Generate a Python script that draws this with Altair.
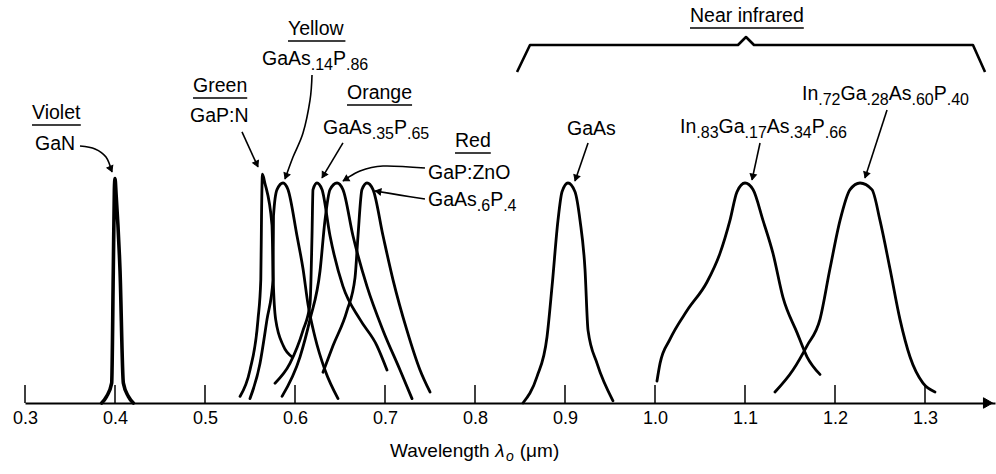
import math
import altair as alt
import pandas as pd

# ---------------- spectra: wavelength (µm) and relative intensity ----------------
GAN_WL = [0.3852, 0.3907, 0.3963, 0.3981, 0.3993, 0.4000, 0.4012, 0.4056, 0.4093, 0.4148, 0.4204]
GAN_I = [0.00, 0.03, 0.09, 0.60, 0.97, 1.02, 0.95, 0.60, 0.09, 0.03, 0.00]

GAPN_WL = [0.5389, 0.5500, 0.5589, 0.5620, 0.5628, 0.5638, 0.5665, 0.5744, 0.5758, 0.5785, 0.5870, 0.5967]
GAPN_I = [0.03, 0.15, 0.38, 0.56, 0.85, 1.04, 1.00, 0.81, 0.56, 0.38, 0.26, 0.21]

YEL_WL = [0.5500, 0.5611, 0.5689, 0.5756, 0.5761, 0.5800, 0.5867, 0.5922, 0.6022, 0.6089, 0.6144, 0.6222, 0.6333, 0.6478]
YEL_I = [0.02, 0.18, 0.38, 0.56, 0.85, 0.97, 1.00, 0.97, 0.76, 0.61, 0.45, 0.30, 0.15, 0.02]

ORA_WL = [0.5778, 0.5944, 0.6089, 0.6167, 0.6189, 0.6200, 0.6244, 0.6300, 0.6389, 0.6533, 0.6722, 0.6911, 0.7022]
ORA_I = [0.09, 0.18, 0.33, 0.45, 0.76, 0.97, 1.00, 0.97, 0.76, 0.53, 0.38, 0.26, 0.15]

ZNO_WL = [0.5856, 0.6056, 0.6167, 0.6278, 0.6333, 0.6389, 0.6467, 0.6533, 0.6644, 0.6800, 0.6978, 0.7167, 0.7300]
ZNO_I = [0.03, 0.21, 0.38, 0.60, 0.83, 0.97, 1.00, 0.97, 0.76, 0.53, 0.33, 0.15, 0.02]

RED_WL = [0.6311, 0.6422, 0.6578, 0.6667, 0.6700, 0.6744, 0.6800, 0.6867, 0.6978, 0.7089, 0.7244, 0.7389, 0.7500]
RED_I = [0.14, 0.26, 0.42, 0.57, 0.76, 0.97, 1.00, 0.97, 0.76, 0.56, 0.33, 0.15, 0.05]

GAAS_WL = [0.8533, 0.8689, 0.8800, 0.8856, 0.8922, 0.8967, 0.9033, 0.9111, 0.9167, 0.9222, 0.9256, 0.9356, 0.9533]
GAAS_I = [0.00, 0.12, 0.30, 0.53, 0.83, 0.96, 1.00, 0.96, 0.83, 0.61, 0.33, 0.18, 0.01]

IN83_WL = [1.0022, 1.0056, 1.0167, 1.0356, 1.0578, 1.0722, 1.0833, 1.0911, 1.1000, 1.1089, 1.1200,
           1.1311, 1.1422, 1.1578, 1.1689, 1.1833]
IN83_I = [0.10, 0.18, 0.29, 0.42, 0.55, 0.68, 0.83, 0.96, 1.00, 0.97, 0.83, 0.68, 0.48, 0.32, 0.21, 0.13]

IN72_WL = [1.1333, 1.1533, 1.1689, 1.1833, 1.1944, 1.2056, 1.2167, 1.2278, 1.2411, 1.2500, 1.2611,
           1.2722, 1.2833, 1.2978, 1.3111]
IN72_I = [0.05, 0.15, 0.26, 0.38, 0.61, 0.83, 0.97, 1.00, 0.97, 0.83, 0.61, 0.38, 0.21, 0.09, 0.05]

CURVES = [("GaN", GAN_WL, GAN_I), ("GaP:N", GAPN_WL, GAPN_I), ("yellow", YEL_WL, YEL_I),
          ("orange", ORA_WL, ORA_I), ("GaP:ZnO", ZNO_WL, ZNO_I), ("red", RED_WL, RED_I),
          ("GaAs", GAAS_WL, GAAS_I), ("In83", IN83_WL, IN83_I), ("In72", IN72_WL, IN72_I)]

TICK_VALUES = [0.3, 0.4, 0.5, 0.6, 0.7, 0.8, 0.9, 1.0, 1.1, 1.2, 1.3]

# ---------------- annotations ----------------
HEADINGS = ["Violet", "Green", "Yellow", "Orange", "Red", "Near infrared"]
HEADING_POS = [(0.3078, 1.291), (0.4867, 1.4136), (0.5922, 1.673), (0.6578, 1.382),
               (0.7778, 1.1636), (1.0389, 1.7318)]

FORMULAS = [
    [("GaN", 0)],
    [("GaP:N", 0)],
    [("GaAs", 0), (".14", 1), ("P", 0), (".86", 1)],
    [("GaAs", 0), (".35", 1), ("P", 0), (".65", 1)],
    [("GaP:ZnO", 0)],
    [("GaAs", 0), (".6", 1), ("P", 0), (".4", 1)],
    [("GaAs", 0)],
    [("In", 0), (".83", 1), ("Ga", 0), (".17", 1), ("As", 0), (".34", 1), ("P", 0), (".66", 1)],
    [("In", 0), (".72", 1), ("Ga", 0), (".28", 1), ("As", 0), (".60", 1), ("P", 0), (".40", 1)],
]
FORMULA_POS = [(0.3111, 1.15), (0.4833, 1.277), (0.5633, 1.536), (0.6311, 1.2227), (0.7478, 1.018),
               (0.7478, 0.895), (0.9022, 1.218), (1.0278, 1.227), (1.1633, 1.377)]

ARROWS = [
    [(0.3611, 1.168), (0.3778, 1.155), (0.3900, 1.118), (0.3967, 1.050)],
    [(0.5411, 1.232), (0.5589, 1.073)],
    [(0.6189, 1.491), (0.6167, 1.377), (0.6089, 1.227), (0.5978, 1.118), (0.5889, 1.018)],
    [(0.6533, 1.182), (0.6300, 1.023)],
    [(0.7444, 1.068), (0.6978, 1.077), (0.6722, 1.055), (0.6533, 1.009)],
    [(0.7444, 0.927), (0.7167, 0.945), (0.6889, 0.964)],
    [(0.9256, 1.182), (0.9111, 1.009)],
    [(1.1167, 1.182), (1.1078, 1.014)],
    [(1.2578, 1.332), (1.2333, 1.023)],
]

BRACE = [(0.8467, 1.5045), (0.8611, 1.6273), (1.0922, 1.6273), (1.1011, 1.6636),
         (1.1100, 1.6273), (1.3533, 1.6273), (1.3667, 1.5045)]

# (text, subscript, italic, extra gap after in px)
TITLE_SEGS = [("Wavelength", 0, 0, 5), ("λ", 0, 1, 0), ("o", 1, 1, 6), ("(μm)", 0, 0, 0)]
TITLE_POS = (0.7056, -0.2455)

# ---------------- layout ----------------
X_MIN, X_MAX = 0.3, 1.37778
Y_MAX = 1.8318
W, H = 970, 403
PX_X = W / (X_MAX - X_MIN)
PX_Y = H / Y_MAX
FONT = "Liberation Sans"
MAIN_FS, SUB_FS, SUB_DY = 19.5, 16, 5
TICK_LEN = 18 / PX_Y

ARIAL = {" ": 278, ".": 278, ":": 278, "(": 333, ")": 333, "A": 667, "G": 778, "I": 278, "N": 722,
         "O": 778, "P": 667, "V": 667, "Z": 611, "W": 944, "R": 722, "Y": 667, "a": 556, "d": 556,
         "e": 556, "f": 278, "g": 556, "h": 556, "i": 222, "l": 222, "m": 833, "n": 556, "o": 556,
         "r": 333, "s": 500, "t": 278, "v": 500, "w": 722, "u": 556, "λ": 560, "μ": 576}


def tw(s, fs):
    return sum(ARIAL.get(c, 556) for c in s) / 1000.0 * fs


xs = alt.Scale(domain=[X_MIN, X_MAX], nice=False, zero=False)
ys = alt.Scale(domain=[0, Y_MAX], nice=False, zero=False)
xaxis = alt.Axis(values=TICK_VALUES, format=".1f", title=None, ticks=False, tickSize=0, grid=False,
                 domain=True, domainColor="black", domainWidth=2, labelFont=FONT, labelFontSize=18,
                 labelColor="black", labelPadding=6, labelFlush=False, labelOverlap=False)


def X(f="x"):
    return alt.X(f"{f}:Q", scale=xs, axis=xaxis)


def Y(f="y"):
    return alt.Y(f"{f}:Q", scale=ys, axis=None)


# curves
rows = []
for name, wl, it in CURVES:
    for k, (a, b) in enumerate(zip(wl, it)):
        rows.append(dict(c=name, x=a, y=b, o=k, w=3.6 if name == "GaN" else 2.8))
curves = alt.Chart(pd.DataFrame(rows)).mark_line(
    interpolate="monotone", color="black", strokeCap="round", strokeJoin="round"
).encode(x=X(), y=Y(), detail="c:N", order="o:Q",
         strokeWidth=alt.StrokeWidth("w:Q", scale=None, legend=None))

# tick marks pointing up
ticks = alt.Chart(pd.DataFrame({"x": TICK_VALUES, "y": [0.0] * len(TICK_VALUES),
                                "y2": [TICK_LEN] * len(TICK_VALUES)})).mark_rule(
    color="black", strokeWidth=1.5).encode(x=X(), y=Y(), y2="y2:Q")

# axis arrow head
axis_head = alt.Chart(pd.DataFrame({"x": [X_MAX - 7 / PX_X], "y": [0.0]})).mark_point(
    shape="triangle-right", filled=True, fill="black", stroke="black", size=110, opacity=1, strokeWidth=1
).encode(x=X(), y=Y())

# arrows
arows, hrows = [], []
for i, pts in enumerate(ARROWS):
    for k, (a, b) in enumerate(pts):
        arows.append(dict(g=i, x=a, y=b, o=k))
    (x1, y1), (x2, y2) = pts[-2], pts[-1]
    dx = (x2 - x1) * PX_X
    dy = -(y2 - y1) * PX_Y
    L = math.hypot(dx, dy)
    ux, uy = dx / L, dy / L
    ang = math.degrees(math.atan2(ux, -uy)) % 360
    back = 4.0
    hrows.append(dict(x=x2 - ux * back / PX_X, y=y2 + uy * back / PX_Y, a=ang))
arrows = alt.Chart(pd.DataFrame(arows)).mark_line(
    interpolate="cardinal", color="black", strokeWidth=1.6
).encode(x=X(), y=Y(), detail="g:N", order="o:Q")
heads = alt.Chart(pd.DataFrame(hrows)).mark_point(
    shape="triangle", filled=True, fill="black", stroke="black", size=40, opacity=1, strokeWidth=1
).encode(x=X(), y=Y(), angle=alt.Angle("a:Q", scale=None))

# brace
brace = alt.Chart(pd.DataFrame([dict(x=a, y=b, o=k) for k, (a, b) in enumerate(BRACE)])).mark_line(
    color="black", strokeWidth=2.6, strokeJoin="round"
).encode(x=X(), y=Y(), order="o:Q")

# texts
trows, urows = [], []
for txt, (hx, hy) in zip(HEADINGS, HEADING_POS):
    trows.append(dict(x=hx, y=hy, t=txt, fs=MAIN_FS, it=0))
    urows.append(dict(x=hx, x2=hx + tw(txt, MAIN_FS) / PX_X, y=hy - 6 / PX_Y))
for segs, (fx, fy) in zip(FORMULAS, FORMULA_POS):
    cx = fx
    for s, sub in segs:
        fs = SUB_FS if sub else MAIN_FS
        trows.append(dict(x=cx, y=fy - (SUB_DY / PX_Y if sub else 0), t=s, fs=fs, it=0))
        cx += tw(s, fs) / PX_X
cx = TITLE_POS[0]
for s, sub, ital, gap in TITLE_SEGS:
    fs = 14 if sub else 19
    trows.append(dict(x=cx, y=TITLE_POS[1] - (4 / PX_Y if sub else 0), t=s, fs=fs, it=ital))
    cx += (tw(s, fs) + gap) / PX_X
tdf = pd.DataFrame(trows)

underlines = alt.Chart(pd.DataFrame(urows)).mark_rule(color="black", strokeWidth=1.6).encode(
    x=X(), x2="x2:Q", y=Y())

texts = alt.Chart(tdf[tdf.it == 0]).mark_text(
    align="left", baseline="alphabetic", font=FONT, color="black"
).encode(x=X(), y=Y(), text="t:N", size=alt.Size("fs:Q", scale=None, legend=None))
texts_it = alt.Chart(tdf[tdf.it == 1]).mark_text(
    align="left", baseline="alphabetic", font=FONT, fontStyle="italic", color="black"
).encode(x=X(), y=Y(), text="t:N", size=alt.Size("fs:Q", scale=None, legend=None))

chart = alt.layer(curves, ticks, axis_head, arrows, heads, brace, underlines, texts, texts_it).properties(
    width=W, height=H,
    autosize=alt.AutoSizeParams(type="none"),
    padding={"left": 25, "top": 0, "right": 1, "bottom": 71},
    background="white",
).configure_view(stroke=None)

chart.save("out.html", embed_options={"renderer": "svg", "actions": False})
